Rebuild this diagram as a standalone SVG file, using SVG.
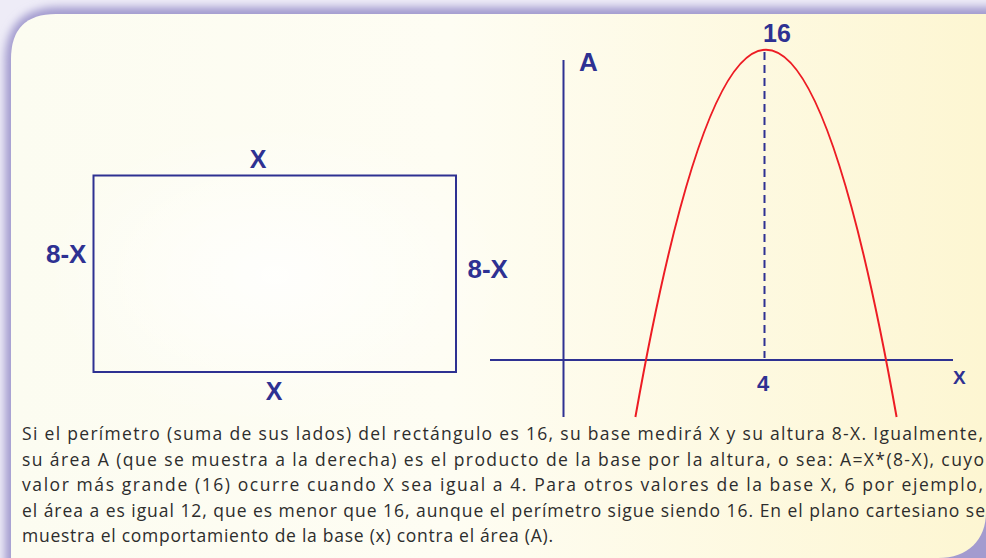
<svg xmlns="http://www.w3.org/2000/svg" width="986" height="558" viewBox="0 0 986 558">
<defs>
<linearGradient id="panelGrad" x1="0" y1="0" x2="1" y2="0">
<stop offset="0" stop-color="#fcfcf1"/>
<stop offset="0.45" stop-color="#fefdf3"/>
<stop offset="1" stop-color="#fdf6d2"/>
</linearGradient>
<radialGradient id="glow" cx="0.5" cy="0.5" r="0.5">
<stop offset="0" stop-color="#ffffff" stop-opacity="0.8"/>
<stop offset="1" stop-color="#ffffff" stop-opacity="0"/>
</radialGradient>
<filter id="blur" x="-0.1" y="-0.1" width="1.2" height="1.2">
<feGaussianBlur stdDeviation="4"/>
</filter>
<style>
.lbl{font-family:"Liberation Sans",Arial,sans-serif;font-weight:bold;fill:#2e3192}
.ln{fill:none;stroke:#2e3192;stroke-width:2}
.para{font-family:"Open Sans","Noto Sans",sans-serif;font-size:17.5px;fill:#2d2d2d}
</style>
</defs>
<rect x="0" y="0" width="986" height="558" fill="#eeecf7"/>
<path d="M5,62 Q5,7 60,7 L1000,7 L1000,570 L5,570 Z" fill="#a39bcf" filter="url(#blur)"/>
<path d="M11,59 Q11,14 56,14 L986,14 L986,512 C986,540 968,558 938,558 L11,558 Z" fill="url(#panelGrad)"/>
<ellipse cx="275" cy="275" rx="230" ry="150" fill="url(#glow)"/>

<g id="rectangle">
<rect class="ln" x="93.5" y="175.5" width="362.5" height="196.5"/>
</g>
<g id="label-x-top"><text class="lbl" x="258" y="168" font-size="25" text-anchor="middle">X</text></g>
<g id="label-x-bottom"><text class="lbl" x="274" y="400" font-size="25" text-anchor="middle">X</text></g>
<g id="label-h-left"><text class="lbl" x="46" y="262.5" font-size="26">8-X</text></g>
<g id="label-h-right"><text class="lbl" x="467.5" y="278" font-size="26">8-X</text></g>

<g id="axes">
<line class="ln" x1="563.5" y1="60" x2="563.5" y2="417"/>
<line class="ln" x1="490" y1="360" x2="953" y2="360"/>
</g>
<g id="axis-labels">
<text class="lbl" x="579" y="71" font-size="26">A</text>
<text class="lbl" x="953" y="384" font-size="19">X</text>
<text class="lbl" x="777" y="42" font-size="25" text-anchor="middle">16</text>
<text class="lbl" x="763" y="390.5" font-size="22" text-anchor="middle">4</text>
</g>
<g id="connectors">
<line x1="764.5" y1="52" x2="764.5" y2="358" stroke="#2e3192" stroke-width="2" stroke-dasharray="8,5"/>
</g>
<g id="parabola">
<path d="M635.4,417 Q766,-317.5 896.6,417" fill="none" stroke="#ed1c24" stroke-width="2"/>
</g>

<g id="caption" class="para">
<text x="22" y="440" textLength="961" lengthAdjust="spacing">Si el perímetro (suma de sus lados) del rectángulo es 16, su base medirá X y su altura 8-X. Igualmente,</text>
<text x="22" y="465.5" textLength="962" lengthAdjust="spacing">su área A (que se muestra a la derecha) es el producto de la base por la altura, o sea: A=X*(8-X), cuyo</text>
<text x="22" y="491" textLength="961" lengthAdjust="spacing">valor más grande (16) ocurre cuando X sea igual a 4. Para otros valores de la base X, 6 por ejemplo,</text>
<text x="22" y="516.5" textLength="963" lengthAdjust="spacing">el área a es igual 12, que es menor que 16, aunque el perímetro sigue siendo 16. En el plano cartesiano se</text>
<text x="22" y="542.3" textLength="531" lengthAdjust="spacing">muestra el comportamiento de la base (x) contra el área (A).</text>
</g>
</svg>
